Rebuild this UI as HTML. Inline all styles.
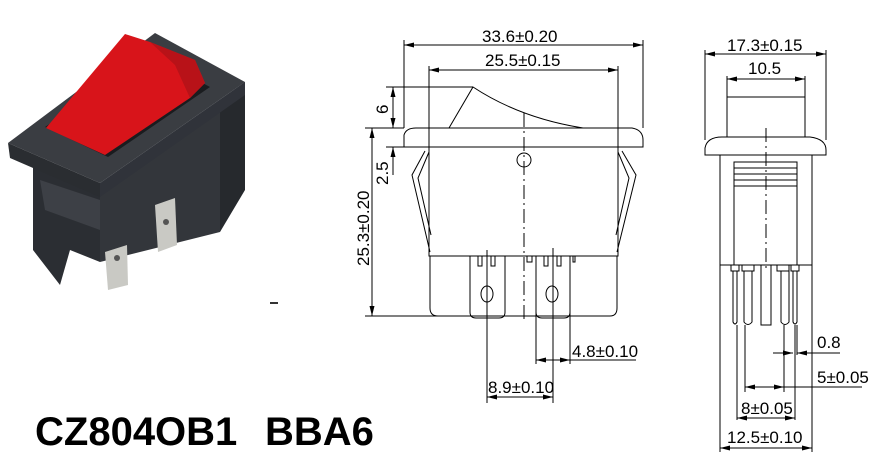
<!DOCTYPE html>
<html><head><meta charset="utf-8"><style>
html,body{margin:0;padding:0;background:#fff;}
svg{display:block;}
text{font-family:"Liberation Sans",sans-serif;fill:#000;}
</style></head><body>
<svg width="872" height="454" viewBox="0 0 872 454" xmlns="http://www.w3.org/2000/svg">
<defs>
<marker id="a" viewBox="0 0 10 6" refX="10" refY="3" markerWidth="10" markerHeight="6" orient="auto-start-reverse" markerUnits="userSpaceOnUse"><path d="M0,0.5L10,3L0,5.5z" fill="#000"/></marker>
</defs>
<!-- photo -->
<g>
<polygon points="33,165 100,190 100,262 70,250 60,285 33,250" fill="#2b2e33"/>
<polygon points="100,190 220,110 220,232 100,262" fill="#33363b"/>
<polygon points="40,180 100,200 100,230 45,210" fill="#3d4046"/>
<polygon points="220,100 245,82 245,190 220,232" fill="#26292d"/>
<polygon points="8,143 155,33 245,82 100,183" fill="#3a3d42"/>
<polygon points="8,143 100,183 100,197 10,158" fill="#2a2d31"/>
<polygon points="100,183 245,82 245,95 100,197" fill="#30333a"/>
<polygon points="45,127 150,55 210,87 108,157" fill="#1a1c1f"/>
<polygon points="46,128 125,34 150,42 195,60 205,83 190,98 105,155" fill="#d8141a"/>
<polygon points="150,42 195,60 205,83 190,98 175,65" fill="#b81218"/>
<polygon points="155,205 175,198 177,245 158,252" fill="#c9c9c4"/>
<polygon points="105,252 127,245 128,285 108,290" fill="#c9c9c4"/>
<circle cx="166" cy="222" r="3" fill="#555"/>
<circle cx="117" cy="258" r="3" fill="#555"/>
<rect x="270" y="302" width="8" height="2" fill="#333"/>
</g>
<text x="35" y="445" font-size="40" font-weight="bold">CZ804OB1</text>
<text x="265" y="445" font-size="40" font-weight="bold">BBA6</text>

<g stroke="#000" stroke-width="1" fill="none">
<!-- front view -->
<line x1="404" y1="40" x2="404" y2="128"/><line x1="643" y1="40" x2="643" y2="128"/>
<line x1="404" y1="45" x2="643" y2="45" marker-start="url(#a)" marker-end="url(#a)"/>
<line x1="429" y1="66" x2="429" y2="147"/><line x1="618" y1="66" x2="618" y2="147"/>
<line x1="429" y1="70" x2="618" y2="70" marker-start="url(#a)" marker-end="url(#a)"/>
<path d="M449,128 L473,87 Q520,118 583,128"/>
<path d="M404,147 L404,135 Q406,128 416,128 L632,128 Q643,130 643,140 L643,147 Z"/>
<rect x="429" y="147" width="189" height="109"/>
<path d="M430,256 L430,308 Q430,316 438,316 L610,316 Q617,316 617,308 L617,256"/>
<path d="M470,256 L470,312 Q470,318 476,318 L499,318 Q505,318 505,312 L505,256"/>
<path d="M536,256 L536,312 Q536,318 542,318 L564,318 Q570,318 570,312 L570,256"/>
<rect x="478" y="256" width="4" height="10"/><rect x="491" y="256" width="4" height="10"/>
<rect x="544" y="256" width="4" height="10"/><rect x="557" y="256" width="4" height="10"/>
<path d="M527,256 L527,262 L532,262 L532,256"/><path d="M573,256 L573,262 L575,262 L575,256"/>
<ellipse cx="487" cy="294" rx="6" ry="8"/><ellipse cx="552" cy="294" rx="6" ry="8"/>
<circle cx="524" cy="160" r="7"/>
<path d="M425,151 L412,175 L430,252"/><path d="M429,152 L418,178 L431,235"/>
<path d="M622,151 L636,175 L617,252"/><path d="M618,152 L629,178 L616,235"/>
<line x1="524" y1="113" x2="524" y2="320" stroke-dasharray="14,4,2,4"/>
<line x1="386" y1="87" x2="473" y2="87"/>
<line x1="386" y1="147" x2="404" y2="147"/>
<line x1="365" y1="128" x2="404" y2="128"/>
<line x1="393" y1="87" x2="393" y2="128" marker-start="url(#a)" marker-end="url(#a)"/>
<line x1="393" y1="147" x2="393" y2="175" marker-start="url(#a)"/>
<line x1="372" y1="128" x2="372" y2="316" marker-start="url(#a)" marker-end="url(#a)"/>
<line x1="365" y1="316" x2="470" y2="316"/>
<line x1="487" y1="250" x2="487" y2="403"/><line x1="553" y1="248" x2="553" y2="403"/>
<line x1="487" y1="397" x2="553" y2="397" marker-start="url(#a)" marker-end="url(#a)"/>
<line x1="536" y1="300" x2="536" y2="364"/><line x1="570" y1="300" x2="570" y2="364"/>
<line x1="536" y1="360" x2="570" y2="360" marker-start="url(#a)" marker-end="url(#a)"/>
<line x1="570" y1="360" x2="636" y2="360"/>
<!-- side view -->
<line x1="705" y1="50" x2="705" y2="140"/><line x1="826" y1="50" x2="826" y2="140"/>
<line x1="705" y1="54" x2="826" y2="54" marker-start="url(#a)" marker-end="url(#a)"/>
<line x1="727" y1="76" x2="727" y2="97"/><line x1="805" y1="76" x2="805" y2="97"/>
<line x1="727" y1="79" x2="805" y2="79" marker-start="url(#a)" marker-end="url(#a)"/>
<rect x="727" y="97" width="78" height="40"/>
<path d="M705,155 L705,148 Q707,137 722,137 L810,137 Q826,139 826,150 L826,155 Z"/>
<rect x="720" y="155" width="92" height="110"/>
<path d="M734,265 L734,162 L797,162 L797,265"/>
<line x1="734" y1="168" x2="797" y2="168"/><line x1="734" y1="174" x2="797" y2="174"/>
<line x1="734" y1="180" x2="797" y2="180"/><line x1="734" y1="186" x2="797" y2="186"/>
<line x1="766" y1="128" x2="766" y2="270" stroke-dasharray="14,4,2,4"/>
<rect x="731" y="265" width="8" height="6"/><rect x="742" y="265" width="12" height="6"/>
<rect x="777" y="265" width="12" height="6"/><rect x="791" y="265" width="8" height="6"/>
<path d="M733,271 L733,322 Q735,326 737,322 L737,271"/>
<path d="M744,271 L744,322 Q748,327 752,322 L752,271"/>
<rect x="761" y="265" width="10" height="60"/>
<path d="M781,271 L781,322 Q785,327 789,322 L789,271"/>
<path d="M793,271 L793,322 Q795,326 797,322 L797,271"/>
<line x1="737" y1="325" x2="737" y2="420"/><line x1="745" y1="325" x2="745" y2="392"/>
<line x1="784" y1="325" x2="784" y2="392"/><line x1="795" y1="325" x2="795" y2="420"/>
<line x1="797" y1="325" x2="797" y2="355"/>
<line x1="720" y1="265" x2="720" y2="452"/><line x1="812" y1="265" x2="812" y2="452"/>
<line x1="773" y1="353" x2="793" y2="353" marker-end="url(#a)"/>
<line x1="797" y1="353" x2="840" y2="353" marker-start="url(#a)"/>
<line x1="745" y1="387" x2="784" y2="387" marker-start="url(#a)" marker-end="url(#a)"/>
<line x1="784" y1="387" x2="862" y2="387"/>
<line x1="737" y1="418" x2="795" y2="418" marker-start="url(#a)" marker-end="url(#a)"/>
<line x1="720" y1="448" x2="812" y2="448" marker-start="url(#a)" marker-end="url(#a)"/>
</g>
<g font-size="17">
<text x="482" y="42">33.6±0.20</text>
<text x="485" y="66">25.5±0.15</text>
<text x="388" y="114" transform="rotate(-90 388 114)">6</text>
<text x="388" y="185" transform="rotate(-90 388 185)">2.5</text>
<text x="369" y="266" transform="rotate(-90 369 266)">25.3±0.20</text>
<text x="572" y="357">4.8±0.10</text>
<text x="488" y="393">8.9±0.10</text>
<text x="727" y="51">17.3±0.15</text>
<text x="748" y="74">10.5</text>
<text x="817" y="348">0.8</text>
<text x="817" y="383">5±0.05</text>
<text x="741" y="414">8±0.05</text>
<text x="727" y="443">12.5±0.10</text>
</g>
</svg>
</body></html>
